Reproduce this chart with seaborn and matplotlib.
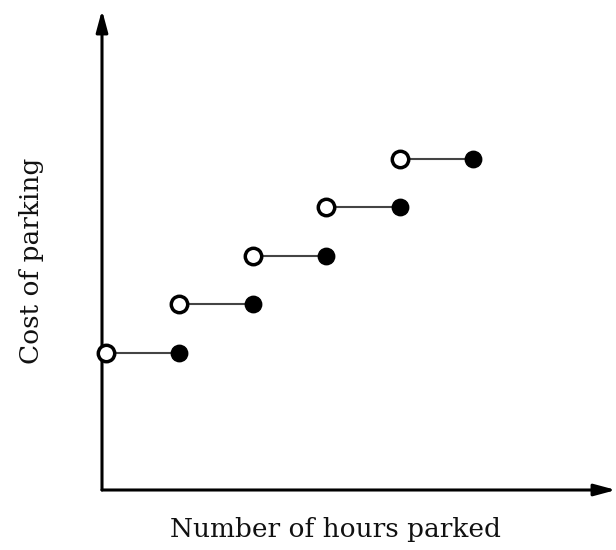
import matplotlib
matplotlib.use('Agg')
import matplotlib.pyplot as plt
import seaborn as sns
import pandas as pd

# Step function: cost of parking by hours parked
start_hours = [0, 1, 2, 3, 4]
end_hours = [1, 2, 3, 4, 5]
cost = [1, 2, 3, 4, 5]

sns.set_style('white')
plt.rcParams['font.family'] = ['DejaVu Serif', 'Liberation Serif']

W, H = 616, 550
fig = plt.figure(figsize=(W / 100, H / 100), dpi=100)
ax = fig.add_axes([102 / W, 60 / H, (W - 102) / W, 480 / H])
ax.set_xlim(-0.054, 6.95)
ax.set_ylim(-1.825, 8.07)
for s in ax.spines.values():
    s.set_visible(False)
ax.set_xticks([])
ax.set_yticks([])

# axes with arrowheads
ax.annotate('', xy=(0, 1.0), xytext=(0, 0), xycoords='axes fraction',
            arrowprops=dict(arrowstyle='-|>,head_length=1.3,head_width=0.35',
                            color='black', lw=2.2, shrinkA=0, shrinkB=0))
ax.annotate('', xy=(1.0, 0), xytext=(0, 0), xycoords='axes fraction',
            arrowprops=dict(arrowstyle='-|>,head_length=1.3,head_width=0.35',
                            color='black', lw=2.2, shrinkA=0, shrinkB=0))

ax.hlines(cost, start_hours, end_hours, color='#444444', lw=1.5, zorder=2)

df = pd.DataFrame({'start': start_hours, 'end': end_hours, 'cost': cost})
sns.scatterplot(data=df, x='start', y='cost', ax=ax, s=140, facecolor='white',
                edgecolor='black', linewidth=2.5, zorder=3, clip_on=False)
sns.scatterplot(data=df, x='end', y='cost', ax=ax, s=140, color='black',
                edgecolor='black', linewidth=1, zorder=3, clip_on=False)
ax.set_xlabel('')
ax.set_ylabel('')

fig.text(335 / W, 1 - 529 / H, 'Number of hours parked', fontsize=19,
         ha='center', va='center', color='#111111')
fig.text(32 / W, 1 - 261 / H, 'Cost of parking', fontsize=19, rotation=90,
         ha='center', va='center', color='#111111')

fig.savefig('out.png', dpi=100, facecolor='white')
